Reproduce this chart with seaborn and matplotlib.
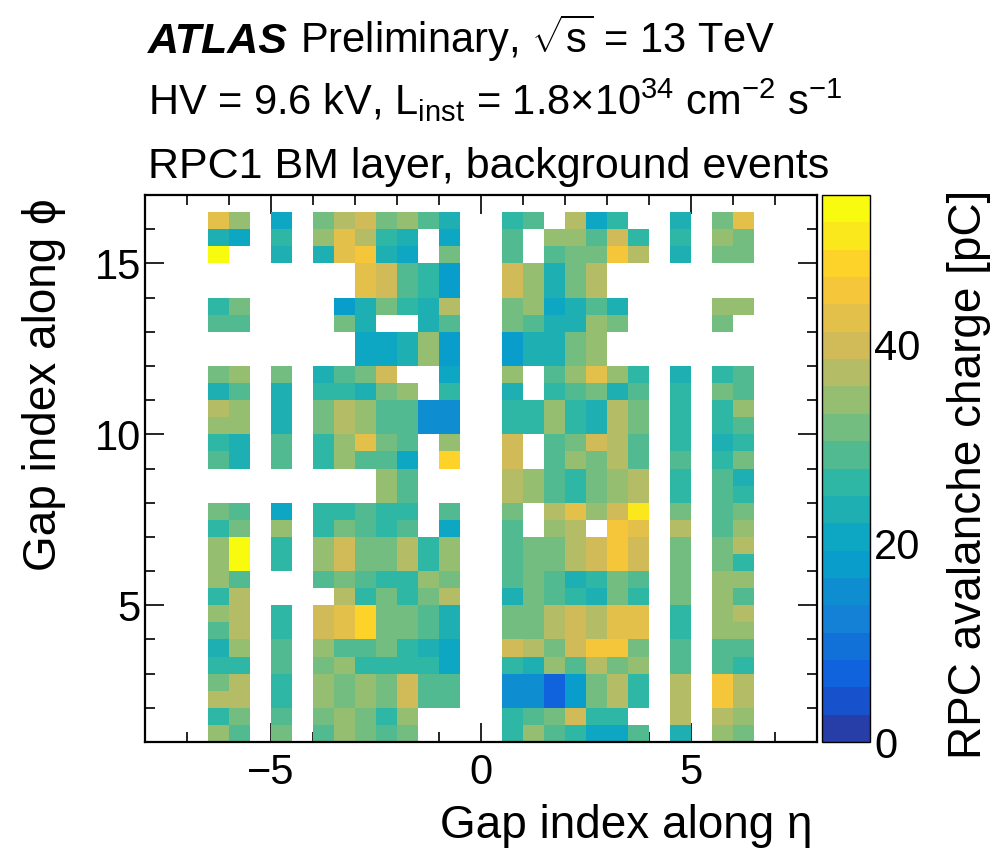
import numpy as np
import pandas as pd
import matplotlib
matplotlib.use("Agg")
import matplotlib.pyplot as plt
from matplotlib.colors import LinearSegmentedColormap, ListedColormap
import seaborn as sns

nan = np.nan

# ---------------- data ----------------
# lower edge of each gap bin along eta (bins are 0.5 wide)
eta_bins = [-6.5, -6.0, -5.5, -5.0, -4.5, -4.0, -3.5, -3.0, -2.5, -2.0, -1.5, -1.0, -0.5,
            0.0, 0.5, 1.0, 1.5, 2.0, 2.5, 3.0, 3.5, 4.0, 4.5, 5.0, 5.5, 6.0]
# lower edge of each gap bin along phi, top row first (bins are 0.5 wide)
phi_bins = [16.0, 15.5, 15.0, 14.5, 14.0, 13.5, 13.0, 12.5, 12.0, 11.5, 11.0, 10.5, 10.0,
            9.5, 9.0, 8.5, 8.0, 7.5, 7.0, 6.5, 6.0, 5.5, 5.0, 4.5, 4.0, 3.5, 3.0, 2.5,
            2.0, 1.5, 1.0]
# mean avalanche charge [pC], one row per phi bin (top to bottom), NaN = no data
charge_pC = [
    [43, 34.5, nan, 20, nan, 31.5, 37, 40, 31.5, 34.5, 29, 23.5, nan, nan, 26, 29, nan, 37, 20, 26, nan, nan, 23.5, nan, 31.5, 43],
    [23.5, 20, nan, 26, nan, 34.5, 43, 37, 26, 23.5, nan, 20, nan, nan, 29, nan, 34.5, 34.5, 29, 40, 26, nan, 26, nan, 34.5, 31.5],
    [54, nan, nan, 23.5, nan, 23.5, 43, 46, 23.5, 20, nan, 31.5, nan, nan, 29, nan, 29, 31.5, 31.5, 46, 37, nan, 23.5, nan, 31.5, 31.5],
    [nan, nan, nan, nan, nan, nan, nan, 43, 40, 29, 26, 18, nan, nan, 40, 34.5, 23.5, 31.5, 37, nan, nan, nan, nan, nan, nan, nan],
    [nan, nan, nan, nan, nan, nan, nan, 43, 40, 29, 26, 18, nan, nan, 40, 34.5, 23.5, 31.5, 37, nan, nan, nan, nan, nan, nan, nan],
    [26, 31.5, nan, nan, nan, nan, 18, 23.5, 31.5, 26, 23.5, 37, nan, nan, 31.5, 34.5, 20, 22, 29, 23.5, nan, nan, nan, nan, 34.5, 34.5],
    [29, 29, nan, nan, nan, nan, 31.5, 23.5, nan, nan, 23.5, 29, nan, nan, 31.5, 29, 23, 23, 34.5, 31.5, nan, nan, nan, nan, 31.5, nan],
    [nan, nan, nan, nan, nan, nan, nan, 20, 20, 23.5, 34.5, 18, nan, nan, 17, 23.5, 23.5, 31.5, 34.5, nan, nan, nan, nan, nan, nan, nan],
    [nan, nan, nan, nan, nan, nan, nan, 20, 20, 23.5, 34.5, 18, nan, nan, 17, 23.5, 23.5, 31.5, 34.5, nan, nan, nan, nan, nan, nan, nan],
    [31.5, 34.5, nan, 31.5, nan, 23.5, 29, 31.5, 40, nan, nan, 20, nan, nan, 34.5, nan, 29, 34.5, 43, 34.5, 26, nan, 23.5, nan, 26, 29],
    [23.5, 29, nan, 23.5, nan, 26, 26, 23.5, 31.5, 34.5, nan, 26, nan, nan, 23.5, nan, 26, 29, 31.5, 23.5, 29, nan, 26, nan, 31.5, 29],
    [37, 34.5, nan, 23.5, nan, 31.5, 37, 34.5, 29, 29, 15, 15, nan, nan, 26, 26, 34.5, 26, 23.5, 37, 31.5, nan, 26, nan, 26, 34.5],
    [34.5, 34.5, nan, 23.5, nan, 31.5, 37, 34.5, 29, 29, 15, 15, nan, nan, 26, 26, 34.5, 26, 23.5, 37, 31.5, nan, 26, nan, 26, 29],
    [26, 23.5, nan, 29, nan, 26, 34.5, 42, 31.5, 29, nan, 34.5, nan, nan, 40, nan, 29, 31.5, 40, 37, 29, nan, 26, nan, 23.5, 26],
    [29, 23.5, nan, 29, nan, 26, 34.5, 29, 29, 20, nan, 48, nan, nan, 40, nan, 29, 34.5, 31.5, 37, 29, nan, 29, nan, 26, 31.5],
    [nan, nan, nan, nan, nan, nan, nan, nan, 34.5, 29, nan, nan, nan, nan, 37, 34.5, 29, 26, 31.5, 34.5, 37, nan, 26, nan, 29, 23.5],
    [nan, nan, nan, nan, nan, nan, nan, nan, 34.5, 29, nan, nan, nan, nan, 37, 34.5, 29, 26, 31.5, 34.5, 37, nan, 26, nan, 29, 26],
    [31.5, 29, nan, 19.5, nan, 26, 26, 29, 26, 26, nan, 29, nan, nan, 31.5, nan, 37, 43, 34.5, 40, 52, nan, 31.5, nan, 29, 31.5],
    [26, 31.5, nan, 34.5, nan, 26, 31.5, 29, 26, 29, nan, 20, nan, nan, 29, nan, 34.5, 37, nan, 46, 43, nan, 37, nan, 29, 34.5],
    [34.5, 54, nan, 26, nan, 34.5, 40, 31.5, 31.5, 37, 26, 34.5, nan, nan, 29, 31.5, 31.5, 37, 40, 46, 40, nan, 31.5, nan, 31.5, 37],
    [34.5, 54, nan, 26, nan, 34.5, 40, 31.5, 31.5, 37, 26, 34.5, nan, nan, 29, 31.5, 31.5, 37, 40, 46, 40, nan, 31.5, nan, 31.5, 26],
    [34.5, 29, nan, nan, nan, 29, 31.5, 29, 26, 26, 34.5, 31.5, nan, nan, 29, 31.5, 29, 23.5, 26, 31.5, 29, nan, 31.5, nan, 34.5, 34.5],
    [26, 37, nan, nan, nan, nan, 37, 26, 31.5, 26, 31.5, 37, nan, nan, 23.5, 31.5, 29, 26, 23.5, 31.5, 26, nan, 31.5, nan, 34.5, 29],
    [34.5, 37, nan, 26, nan, 40, 42.5, 48, 31.5, 31.5, 29, 23.5, nan, nan, 31.5, 31.5, 37, 40, 37, 43, 43, nan, 26, nan, 34.5, 37],
    [29, 37, nan, 26, nan, 40, 42.5, 48, 31.5, 31.5, 29, 23.5, nan, nan, 31.5, 31.5, 37, 40, 37, 43, 43, nan, 26, nan, 34.5, 34.5],
    [23.5, 34.5, nan, 29, nan, 34.5, 29, 29, 31.5, 26, 23.5, 20, nan, nan, 40, 37, 31.5, 40, 46, 46, 31.5, nan, 29, nan, 29, 29],
    [26, 26, nan, 29, nan, 31.5, 34.5, 26, 26, 26, 26, 20, nan, nan, 26, 23.5, 34.5, 29, 37, 31.5, 34.5, nan, 29, nan, 29, 26],
    [31.5, 37, nan, 26, nan, 34.5, 31.5, 34.5, 31.5, 40, 29, 29, nan, nan, 16, 16, 8, 19, 31.5, 37, 26, nan, 37, nan, 46, 37],
    [37, 37, nan, 26, nan, 34.5, 31.5, 34.5, 31.5, 40, 29, 29, nan, nan, 16, 16, 8, 19, 31.5, 37, 26, nan, 37, nan, 46, 37],
    [26, 31.5, nan, 29, nan, 31.5, 34.5, 31.5, 26, 34.5, nan, nan, nan, nan, 26, 29, 31.5, 40, 26, 26, nan, nan, 37, nan, 37, 34.5],
    [34.5, 29, nan, 31.5, nan, 29, 34.5, 31.5, 29, 31.5, nan, nan, nan, nan, 26, 34.5, 29, 26, 20, 20, 29, nan, 23.5, nan, 34.5, 31.5],
]

x_range = (-8, 8)
y_range = (1, 17)
x_major = [-5, 0, 5]
x_major_labels = ["\u22125", "0", "5"]
y_major = [5, 10, 15]
y_major_labels = ["5", "10", "15"]
z_range = (0, 55)
z_ticks = [0, 20, 40]
z_tick_labels = ["0", "20", "40"]
n_contours = 20

# ---------------- style ----------------
sns.set_style("white")
plt.rcParams["font.family"] = ["Liberation Sans", "DejaVu Sans"]
plt.rcParams["mathtext.fontset"] = "custom"
plt.rcParams["mathtext.rm"] = "Liberation Sans"
plt.rcParams["mathtext.it"] = "Liberation Sans:italic"
plt.rcParams["mathtext.bf"] = "Liberation Sans:bold"
for key in ["text.color", "axes.labelcolor", "xtick.color", "ytick.color", "axes.edgecolor"]:
    plt.rcParams[key] = "black"

# ROOT kBird palette, discretised into the histogram contour levels
stops = [0.0, 0.125, 0.25, 0.375, 0.5, 0.625, 0.75, 0.875, 1.0]
red = [0.2082, 0.0592, 0.0780, 0.0232, 0.1802, 0.5301, 0.8186, 0.9956, 0.9764]
green = [0.1664, 0.3599, 0.5041, 0.6419, 0.7178, 0.7492, 0.7328, 0.7862, 0.9832]
blue = [0.5293, 0.8684, 0.8385, 0.7914, 0.6425, 0.4662, 0.3499, 0.1968, 0.0539]
bird = LinearSegmentedColormap.from_list(
    "bird", [(s, (r, g, b)) for s, r, g, b in zip(stops, red, green, blue)], N=255)
level_colors = [bird(int((i + 0.99) * 255 / n_contours) / 254.0) for i in range(n_contours)]
cmap = ListedColormap(level_colors)

df = pd.DataFrame(charge_pC, index=phi_bins, columns=eta_bins, dtype=float)

W, H = 1007, 852
fig = plt.figure(figsize=(W / 100, H / 100), dpi=100)
ax = fig.add_axes([145 / W, 1 - 742 / H, 672 / W, 547 / H])
cax = fig.add_axes([822 / W, 1 - 742 / H, 48 / W, 547 / H])

sns.heatmap(df, ax=ax, cmap=cmap, vmin=z_range[0], vmax=z_range[1],
            cbar_ax=cax, linewidths=0, xticklabels=False, yticklabels=False)

# heatmap cell coordinates <-> physical coordinates
dx = eta_bins[1] - eta_bins[0]
dy = phi_bins[0] - phi_bins[1]
def xpos(v):
    return (v - eta_bins[0]) / dx
def ypos(v):
    return (phi_bins[0] + dy - v) / dy

ax.set_xlim(xpos(x_range[0]), xpos(x_range[1]))
ax.set_ylim(ypos(y_range[0]), ypos(y_range[1]))

ax.set_xticks([xpos(v) for v in x_major])
ax.set_xticklabels(x_major_labels, rotation=0)
ax.set_xticks([xpos(v) for v in range(x_range[0], x_range[1] + 1)], minor=True)
ax.set_yticks([ypos(v) for v in y_major])
ax.set_yticklabels(y_major_labels, rotation=0)
ax.set_yticks([ypos(v) for v in range(y_range[0], y_range[1] + 1)], minor=True)

for sp in ax.spines.values():
    sp.set_visible(True)
    sp.set_linewidth(1.6)
    sp.set_color("black")
ax.tick_params(which="both", direction="in", top=True, right=True, bottom=True, left=True,
               width=1.2, color="black", labelcolor="black")
ax.tick_params(which="major", length=13.5, labelsize=30)
ax.tick_params(which="minor", length=7)
ax.tick_params(axis="x", which="major", pad=8)
ax.tick_params(axis="y", which="major", pad=3)
ax.set_xlabel("")
ax.set_ylabel("")

# colour bar
cbar = ax.collections[0].colorbar
cbar.set_ticks(z_ticks)
cbar.set_ticklabels(z_tick_labels)
cbar.outline.set_linewidth(1.0)
cbar.outline.set_edgecolor("black")
cax.tick_params(direction="in", length=13.5, width=1.2, labelsize=30, pad=3,
                color="black", labelcolor="black")
cax.minorticks_off()

# axis titles
fig.text(813 / W, 1 - 838 / H, "Gap index along \u03b7", ha="right", va="baseline", fontsize=33)
fig.text(44 / W, 1 - 198 / H, "Gap index along \u03d5", ha="center", va="top",
         rotation=90, fontsize=33)
fig.text(969 / W, 1 - 190 / H, "RPC avalanche charge [pC]", ha="center", va="top",
         rotation=90, fontsize=33)

# header
fig.text(148 / W, 1 - 53 / H, "ATLAS", fontsize=31, fontweight="bold", fontstyle="italic",
         va="baseline")
fig.text(300 / W, 1 - 53 / H, r"Preliminary, $\sqrt{\mathrm{s}}$ = 13 TeV", fontsize=30,
         va="baseline")
fig.text(148 / W, 1 - 115 / H,
         r"HV = 9.6 kV, L$_{\mathrm{inst}}$ = 1.8$\times$10$^{34}$ cm$^{\mathrm{-2}}$ s$^{\mathrm{-1}}$",
         fontsize=30, va="baseline")
fig.text(148 / W, 1 - 178 / H, "RPC1 BM layer, background events", fontsize=31,
         va="baseline")

fig.savefig("out.png", dpi=100)
